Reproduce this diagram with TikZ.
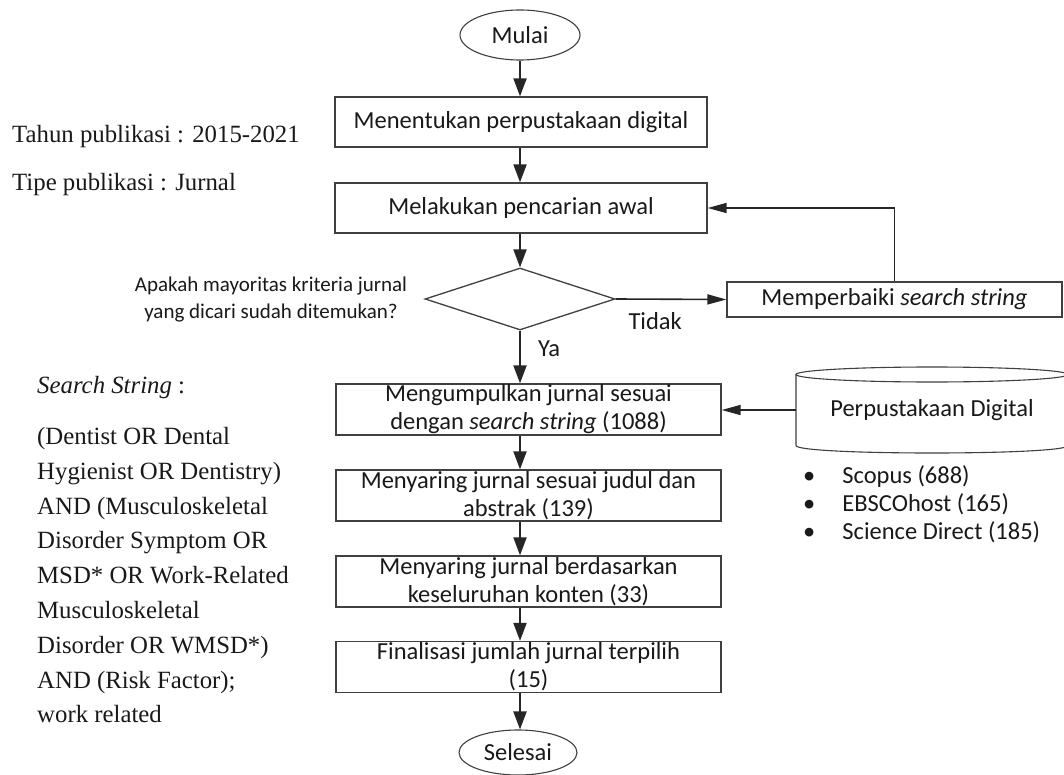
\documentclass[tikz,border=0pt]{standalone}
\usepackage{fontspec}
\setmainfont{Liberation Serif}
\newfontfamily\calfont{Carlito}
\usetikzlibrary{shapes.geometric,arrows.meta}
\begin{document}
\begin{tikzpicture}[x=1pt,y=-1pt,
  every node/.style={text=black!90},
  flowbox/.style={draw=black!75, line width=1.3pt, inner sep=0pt, align=center, font=\calfont\fontsize{24.5}{28}\selectfont},
  term/.style={ellipse, draw=black!75, line width=1.1pt, inner sep=0pt, font=\calfont\fontsize{24.5}{28}\selectfont},
  varr/.style={draw=black!85, line width=2pt, -{Triangle[length=18pt,width=13pt]}},
  harr/.style={draw=black!85, line width=1.6pt, -{Triangle[length=19pt,width=10pt]}},
  lbl/.style={font=\calfont\fontsize{24.5}{28}\selectfont},
  serif/.style={font=\fontsize{24.8}{34.8}\selectfont, inner sep=0pt}
]
\useasboundingbox (0,0) rectangle (1064,775);
\fill[white] (0,0) rectangle (1064,775);

% main column
\node[term, minimum width=120pt, minimum height=50pt] (start) at (520,35) {Mulai};
\node[flowbox, minimum width=372pt, minimum height=50pt] (b1) at (521,122) {Menentukan perpustakaan digital};
\node[flowbox, minimum width=372pt, minimum height=50pt] (b2) at (521,208) {Melakukan pencarian awal};
\node[diamond, draw=black!75, line width=1.3pt, minimum width=190pt, minimum height=62pt, inner sep=0pt] (dec) at (520,299) {};
\node[flowbox, minimum width=335pt, minimum height=35pt] (fix) at (894.5,299.5) {Memperbaiki \textit{search string}};
\node[flowbox, minimum width=385pt, minimum height=51pt] (b3) at (528.5,409.5) {Mengumpulkan jurnal sesuai\\dengan \textit{search string} (1088)};
\node[flowbox, minimum width=385pt, minimum height=51pt] (b4) at (528.5,495.5) {Menyaring jurnal sesuai judul dan\\abstrak (139)};
\node[flowbox, minimum width=385pt, minimum height=51pt] (b5) at (528.5,581.5) {Menyaring jurnal berdasarkan\\keseluruhan konten (33)};
\node[flowbox, minimum width=385pt, minimum height=51pt] (b6) at (528.5,667) {Finalisasi jumlah jurnal terpilih\\(15)};
\node[term, minimum width=118pt, minimum height=45pt] (end) at (518,752.5) {Selesai};

% cylinder
\draw[draw=black!75, line width=1.1pt] (932,374.5) ellipse [x radius=136, y radius=7.5];
\draw[draw=black!75, line width=1.1pt] (796,374.5) -- (796,445.5) .. controls (796,455.5) and (1068,455.5) .. (1068,445.5) -- (1068,374.5);
\node[lbl, minimum width=272pt, minimum height=86pt, inner sep=0pt] (lib) at (932,410) {Perpustakaan Digital};

\node[lbl, anchor=north west, inner sep=0pt] (list) at (803,463.4)
  {\begin{tabular}{@{}l@{\hspace{27pt}}l@{}} • & Scopus (688)\\ • & EBSCOhost (165)\\ • & Science Direct (185)\end{tabular}};

% connectors
\draw[varr] (start.south) -- (b1.north -| start.south);
\draw[varr] (b1.south -| start) -- (b2.north -| start);
\draw[varr] (b2.south -| start) -- (dec.north);
\draw[varr] (dec.south) -- (b3.north -| dec.south)
  node[pos=0.35, anchor=west, xshift=17pt, lbl, inner sep=0pt] (ya) {Ya};
\draw[harr] (dec.east) -- (fix.west)
  node[pos=0.357, yshift=-22pt, lbl, inner sep=0pt] (tidak) {Tidak};
\draw[harr] (fix.north) |- (b2.east);
\draw[harr] (lib.west) -- (lib.west -| b3.east);
\draw[varr] (b3.south -| start) -- (b4.north -| start);
\draw[varr] (b4.south -| start) -- (b5.north -| start);
\draw[varr] (b5.south -| start) -- (b6.north -| start);
\draw[varr] (b6.south -| start) -- (end.north -| start);

% side texts
\node[serif, anchor=west] (year) at (12,137) {Tahun publikasi : 2015-2021};
\node[serif, anchor=west] (type) at (12,185) {Tipe publikasi : Jurnal};
\node[align=center, font=\calfont\fontsize{21}{27}\selectfont, inner sep=0pt] (q) at (271,299.5)
  {Apakah mayoritas kriteria jurnal\\yang dicari sudah ditemukan?};
\node[serif, anchor=north west, align=left] (ss) at (37,376)
  {\textit{Search String} :\\[16.2pt]
   (Dentist OR Dental\\
   Hygienist OR Dentistry)\\
   AND (Musculoskeletal\\
   Disorder Symptom OR\\
   MSD* OR Work-Related\\
   Musculoskeletal\\
   Disorder OR WMSD*)\\
   AND (Risk Factor);\\
   work related};
\end{tikzpicture}
\end{document}
